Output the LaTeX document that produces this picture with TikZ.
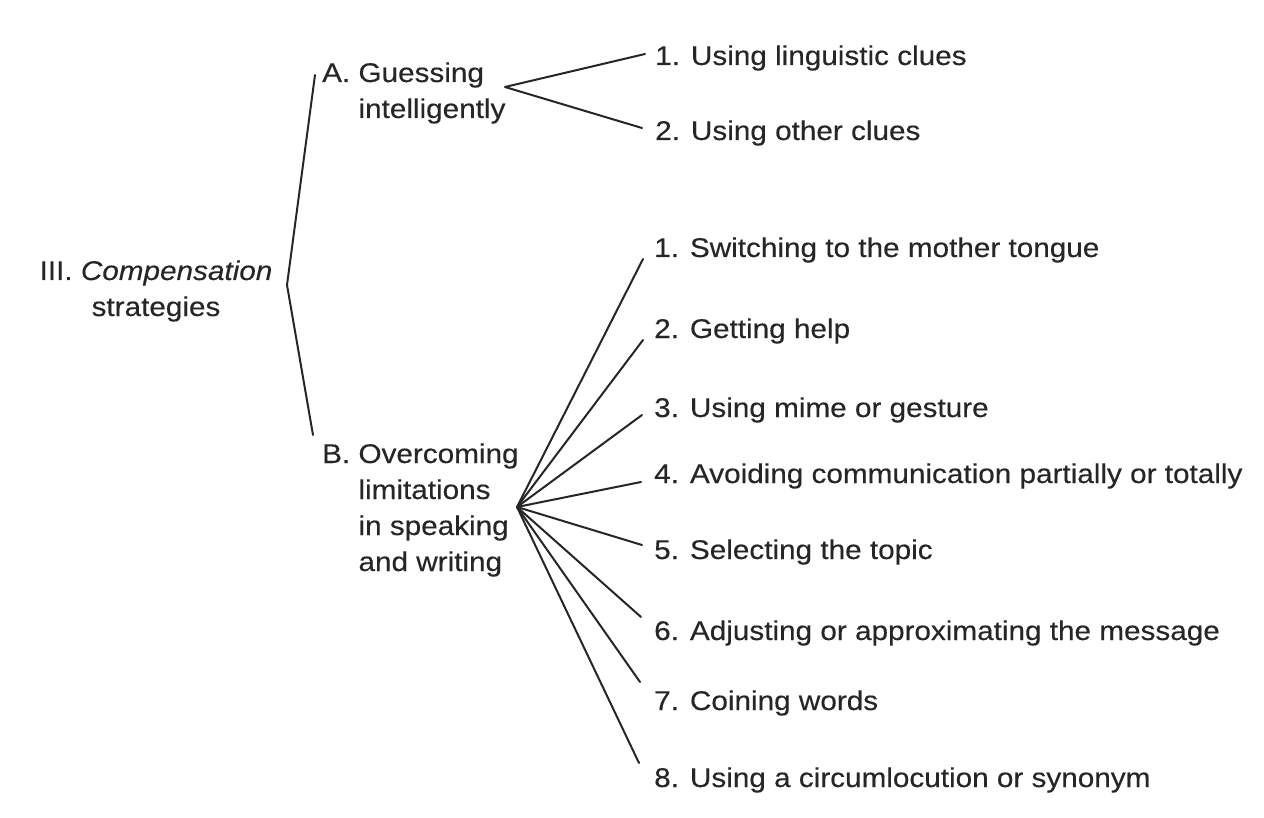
\documentclass[tikz,border=0pt]{standalone}
\usepackage{fontspec}
\setmainfont{Liberation Sans}[FakeStretch=1.1,FakeBold=0.3]
\definecolor{ink}{HTML}{262626}
\begin{document}
\begin{tikzpicture}[x=1pt,y=-1pt,
  txt/.style={anchor=base west, inner sep=0pt, text=ink, font=\fontsize{27}{36}\selectfont},
  ctxt/.style={anchor=base, inner sep=0pt, text=ink, font=\fontsize{27}{36}\selectfont},
  link/.style={draw=ink, line width=2pt, line cap=round, line join=round}]
\useasboundingbox (0,0) rectangle (1264,818);
% texts
\node[ctxt] (root) at (156,280) {\begin{tabular}[t]{@{}c@{}}III. \textit{Compensation}\\ strategies\end{tabular}};
\node[txt] (A) at (322,82) {\begin{tabular}[t]{@{}l@{\ }l@{}}A. & Guessing\\ & intelligently\end{tabular}};
\node[txt] (B) at (322,463) {\begin{tabular}[t]{@{}l@{\ }l@{}}B. & Overcoming\\ & limitations\\ & in speaking\\ & and writing\end{tabular}};
\node[txt] (a1) at (655,65) {1. Using linguistic clues};
\node[txt] (a2) at (655,140) {2. Using other clues};
\node[txt] (b1) at (654,257) {1. Switching to the mother tongue};
\node[txt] (b2) at (654,338) {2. Getting help};
\node[txt] (b3) at (654,417) {3. Using mime or gesture};
\node[txt] (b4) at (654,483) {4. Avoiding communication partially or totally};
\node[txt] (b5) at (654,559) {5. Selecting the topic};
\node[txt] (b6) at (654,640) {6. Adjusting or approximating the message};
\node[txt] (b7) at (654,710) {7. Coining words};
\node[txt] (b8) at (654,787) {8. Using a circumlocution or synonym};
% connector points
\coordinate (rv) at (287,285);
\coordinate (rA) at (315,75);
\coordinate (rB) at (313,435);
\coordinate (av) at (505,87);
\coordinate (ea1) at (645,54);
\coordinate (ea2) at (642,128);
\coordinate (bv) at (517,507);
\coordinate (eb1) at (643,259);
\coordinate (eb2) at (643,340);
\coordinate (eb3) at (642,415);
\coordinate (eb4) at (641,482);
\coordinate (eb5) at (642,545);
\coordinate (eb6) at (641,617);
\coordinate (eb7) at (640,682);
\coordinate (eb8) at (639,763);
% connectors
\draw[link] (rA) -- (rv) -- (rB);
\draw[link] (ea1) -- (av) -- (ea2);
\foreach \i in {1,...,8} {\draw[link] (bv) -- (eb\i);}
\end{tikzpicture}
\end{document}
